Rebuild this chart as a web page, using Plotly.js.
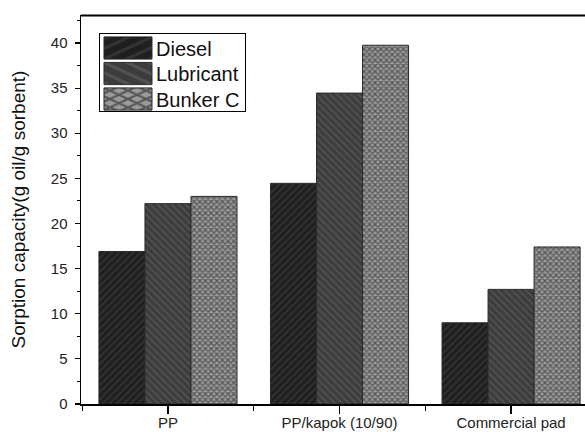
<!DOCTYPE html>
<html>
<head>
<meta charset="utf-8">
<script src="https://cdn.plot.ly/plotly-3.0.1.min.js"></script>
<style>html,body{margin:0;padding:0;overflow:hidden;background:#fff;}</style>
</head>
<body>
<div id="chart" style="width:585px;height:432px;"></div>
<script>
const categories = ["PP", "PP/kapok (10/90)", "Commercial pad"];
const seriesNames = ["Diesel", "Lubricant", "Bunker C"];
const diesel = [16.9, 24.45, 9.0];
const lubricant = [22.2, 34.45, 12.7];
const bunkerC = [23.0, 39.75, 17.4];
const yTicks = [0, 5, 10, 15, 20, 25, 30, 35, 40];

const xIdx = categories.map((c, i) => i);

const styles = [
  {bg: "#1f1f1f", fg: "#4a4a4a", shape: "/", size: 5, solidity: 0.3},
  {bg: "#3c3c3c", fg: "#6a6a6a", shape: "\\", size: 5, solidity: 0.3},
  {bg: "#9a9a9a", fg: "#111111", shape: "x", size: 4, solidity: 0.5}
];
const values = [diesel, lubricant, bunkerC];

const traces = values.map((v, k) => ({
  type: "bar",
  name: seriesNames[k],
  x: xIdx,
  y: v,
  marker: {
    color: styles[k].bg,
    line: {color: "#2a2a2a", width: 1},
    pattern: {shape: styles[k].shape, fgcolor: styles[k].fg, bgcolor: styles[k].bg,
              size: styles[k].size, solidity: styles[k].solidity, fillmode: "overlay"}
  }
}));

const layout = {
  width: 585, height: 432,
  margin: {l: 81, r: 0, t: 15, b: 28},
  paper_bgcolor: "#fff", plot_bgcolor: "#fff",
  font: {family: "Liberation Sans, Arial, sans-serif", color: "#222"},
  barmode: "group",
  bargap: 0.195,
  bargroupgap: 0,
  showlegend: true,
  legend: {
    x: 0.0357, y: 0.9537, xanchor: "left", yanchor: "top",
    bordercolor: "#000", borderwidth: 1, bgcolor: "#fff",
    font: {size: 20, color: "#111"}, tracegroupgap: 0, itemwidth: 46
  },
  shapes: [{type: "line", xref: "paper", yref: "paper", x0: 0, x1: 1, y0: 0.999, y1: 0.999,
            layer: "above", line: {color: "#000", width: 2}}],
  xaxis: {
    type: "linear",
    range: [-0.507, 2.431],
    tickvals: xIdx, ticktext: categories,
    showgrid: false, zeroline: false,
    showline: true, linecolor: "#000", linewidth: 1.5,
    ticks: "outside", ticklen: 8, tickwidth: 1.5, tickcolor: "#000",
    ticklabelstandoff: -4,
    tickfont: {size: 15, color: "#222"},
    minor: {tickvals: [-0.5, 0.5, 1.5], ticks: "outside", ticklen: 5, tickwidth: 1, tickcolor: "#000"}
  },
  yaxis: {
    range: [0, 43.1],
    tickvals: yTicks,
    showgrid: false, zeroline: false,
    showline: true, linecolor: "#000", linewidth: 1.5,
    ticks: "outside", ticklen: 5, tickwidth: 1.2, tickcolor: "#000",
    ticklabelstandoff: 4,
    tickfont: {size: 15, color: "#222"},
    minor: {dtick: 2.5, tick0: 0, ticks: "outside", ticklen: 3, tickwidth: 1, tickcolor: "#000"},
    title: {text: "Sorption capacity(g oil/g sorbent)", font: {size: 19, color: "#111"}, standoff: 20}
  }
};

Plotly.newPlot("chart", traces, layout, {displayModeBar: false, staticPlot: true}).then(gd => {
  // enlarge legend swatches to the wide rectangles used in the reference
  gd.querySelectorAll(".legend .legendpoints path").forEach(p => {
    const t = p.getAttribute("transform") || "";
    p.setAttribute("transform", t + " scale(4,1.85)");
    p.style.vectorEffect = "non-scaling-stroke";
  });
  // tighten legend row spacing to match the reference box
  const items = gd.querySelectorAll(".legend .traces");
  items.forEach((g, i) => {
    const m = /translate\(\s*([-\d.]+)[ ,]+([-\d.]+)/.exec(g.getAttribute("transform") || "");
    const tx = m ? parseFloat(m[1]) : 0;
    g.setAttribute("transform", "translate(" + tx + "," + (15 + 25.5 * i) + ")");
  });
  const bg = gd.querySelector(".legend rect.bg");
  if (bg) bg.setAttribute("height", 78);
  const sb = gd.querySelector(".legend .scrollbox");
  if (sb) sb.removeAttribute("clip-path");
});
</script>
</body>
</html>
